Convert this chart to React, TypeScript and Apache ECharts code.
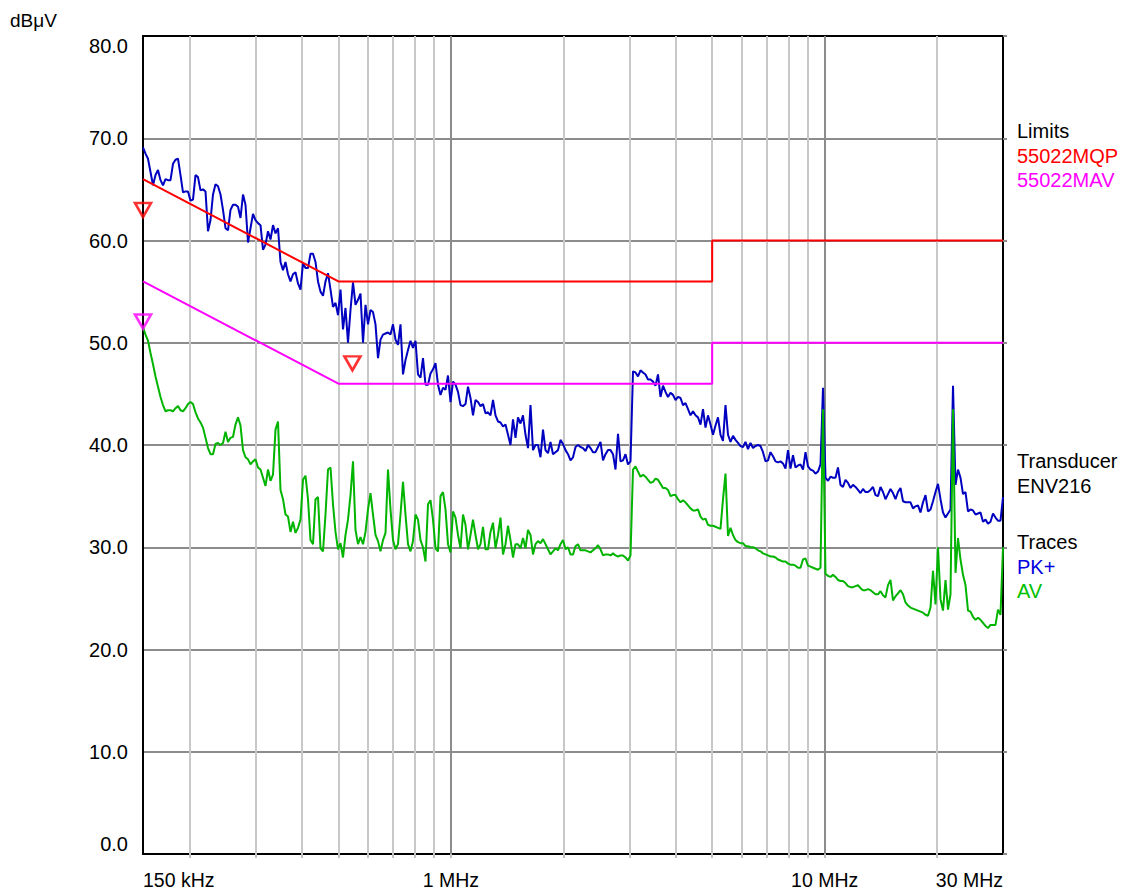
import React, { useEffect, useRef } from 'react';
import * as echarts from 'echarts';

// Sweep grid of the receiver (log-spaced points, shared by both traces)
const SWEEP_START_MHZ = 0.15;
const SWEEP_STOP_MHZ = 30;

const PK_DBUV = [
  69.1, 68.5, 68.0, 66.7, 65.4, 66.4, 66.9, 65.9, 65.4, 66.0,
  65.9, 65.9, 67.5, 67.9, 68.0, 66.4, 64.7, 64.8, 64.8, 63.9,
  64.0, 66.4, 66.2, 64.9, 65.0, 64.8, 60.9, 62.0, 64.5, 65.5,
  65.3, 64.5, 63.0, 61.2, 61.0, 63.0, 63.5, 63.5, 63.3, 62.2,
  64.5, 63.5, 59.8, 61.2, 62.6, 62.0, 61.7, 61.5, 59.1, 59.6,
  60.9, 60.1, 61.5, 60.7, 61.2, 57.9, 57.1, 57.9, 56.7, 56.0,
  56.7, 56.9, 55.8, 55.2, 57.8, 57.3, 57.3, 58.7, 58.7, 57.9,
  56.0, 55.0, 54.6, 56.0, 56.8, 55.2, 53.5, 53.9, 52.7, 55.2,
  51.3, 53.4, 50.0, 53.2, 55.9, 53.7, 54.2, 54.8, 50.0, 53.7,
  51.8, 53.2, 53.0, 51.8, 48.5, 50.3, 50.8, 50.9, 51.0, 50.8,
  51.8, 50.3, 49.8, 51.8, 46.9, 48.3, 49.3, 50.2, 49.5, 50.2,
  46.9, 46.6, 48.5, 45.9, 45.9, 47.0, 47.4, 48.0, 45.9, 44.9,
  45.6, 45.4, 46.8, 44.2, 46.2, 45.9, 45.2, 43.9, 43.8, 44.0,
  45.7, 44.6, 42.9, 44.4, 44.2, 43.8, 44.0, 43.1, 43.2, 42.9,
  44.4, 42.9, 42.3, 42.2, 41.8, 42.0, 41.0, 40.0, 42.5, 40.7,
  42.7, 42.1, 42.9, 41.0, 39.7, 43.9, 39.5, 40.0, 40.0, 38.8,
  41.5, 39.5, 39.2, 40.3, 39.1, 39.3, 39.5, 40.5, 40.1, 39.5,
  39.1, 38.5, 38.8, 39.8, 40.0, 39.8, 39.7, 39.4, 40.0, 39.7,
  39.3, 39.3, 39.8, 40.3, 38.5, 39.1, 39.5, 39.5, 39.1, 37.6,
  41.1, 38.4, 38.5, 39.1, 38.1, 38.4, 47.2, 47.1, 46.7, 47.3,
  47.1, 46.9, 46.4, 46.4, 46.2, 45.8, 46.9, 44.7, 45.8, 45.2,
  44.7, 45.1, 44.9, 44.4, 44.7, 44.6, 43.9, 44.1, 43.5, 42.9,
  43.3, 42.9, 42.7, 42.0, 43.5, 41.7, 42.9, 42.0, 41.0, 41.9,
  42.7, 41.0, 40.4, 43.9, 41.0, 40.3, 40.9, 40.5, 40.2, 39.9,
  39.8, 40.3, 39.6, 40.2, 39.7, 39.9, 40.0, 39.9, 39.3, 38.4,
  38.5, 39.3, 38.9, 38.4, 38.3, 38.4, 38.2, 37.7, 39.5, 37.7,
  39.0, 37.8, 38.0, 38.1, 37.6, 39.3, 37.9, 37.6, 37.5, 37.2,
  37.4, 38.1, 45.6, 36.8, 36.5, 36.9, 36.8, 36.8, 37.8, 36.1,
  35.9, 36.6, 36.3, 35.8, 36.1, 35.9, 35.6, 35.3, 35.7, 35.4,
  35.4, 35.6, 35.9, 35.1, 35.0, 35.9, 35.4, 34.7, 35.2, 35.7,
  35.3, 34.7, 35.4, 35.8, 34.5, 34.4, 34.4, 34.4, 33.8, 34.0,
  34.1, 33.4, 34.4, 35.1, 33.5, 33.7, 34.5, 35.4, 36.2, 34.7,
  33.4, 32.9, 33.3, 33.7, 45.8, 36.1, 37.6, 36.8, 35.2, 35.4,
  33.5, 33.7, 33.6, 33.2, 33.3, 33.4, 32.5, 32.7, 32.3, 32.5,
  33.3, 32.9, 32.6, 32.6, 34.9,
];

const AV_DBUV = [
  51.5, 50.8, 50.2, 49.0, 47.9, 46.7, 45.7, 44.7, 43.9, 43.3,
  43.4, 43.4, 43.3, 43.6, 43.8, 43.4, 43.3, 43.6, 44.0, 44.2,
  44.0, 43.2, 42.6, 42.2, 41.7, 40.7, 39.7, 39.1, 39.1, 40.1,
  40.2, 40.0, 40.2, 41.3, 40.3, 40.7, 40.8, 42.0, 42.7, 41.9,
  39.5, 38.8, 38.6, 38.1, 38.4, 38.6, 37.8, 37.6, 36.8, 36.0,
  37.6, 36.5, 37.1, 41.5, 42.3, 35.6, 34.7, 33.2, 33.0, 31.5,
  32.5, 31.4, 31.9, 32.7, 36.6, 37.0, 34.7, 30.7, 30.3, 34.7,
  34.9, 29.9, 29.6, 33.2, 37.6, 37.8, 34.2, 31.5, 29.8, 30.4,
  29.0, 31.2, 32.7, 35.1, 38.4, 31.7, 30.3, 31.0, 30.3, 31.5,
  33.7, 35.3, 33.2, 31.2, 30.6, 29.6, 30.7, 31.4, 37.6, 33.7,
  30.7, 29.8, 30.3, 33.2, 36.4, 33.2, 30.3, 29.6, 30.6, 33.2,
  32.7, 30.7, 30.0, 28.6, 34.2, 34.6, 32.7, 29.9, 29.6, 35.0,
  35.4, 33.7, 30.3, 29.5, 33.5, 32.9, 31.2, 29.9, 33.2, 32.2,
  29.8, 31.2, 32.7, 31.2, 29.8, 30.3, 32.0, 29.8, 29.8, 31.5,
  32.4, 29.9, 31.2, 32.9, 29.3, 30.3, 32.1, 30.7, 29.0, 30.3,
  30.3, 29.9, 30.9, 29.9, 31.7, 31.2, 29.3, 30.3, 30.6, 30.4,
  30.8, 30.3, 29.8, 29.3, 29.6, 29.9, 29.7, 30.3, 30.7, 29.8,
  30.0, 29.3, 29.3, 30.1, 30.3, 29.7, 29.7, 29.7, 29.6, 29.5,
  29.7, 29.9, 30.2, 29.8, 29.2, 29.3, 29.3, 29.2, 29.4, 29.2,
  29.1, 29.2, 29.2, 29.0, 28.7, 29.2, 37.6, 37.9, 37.4, 36.9,
  37.1, 36.9, 36.6, 36.3, 36.4, 36.7, 36.6, 36.2, 35.8, 35.8,
  35.6, 35.0, 35.1, 35.1, 34.7, 34.4, 34.6, 34.4, 34.1, 33.8,
  33.6, 33.6, 33.7, 33.0, 32.7, 32.8, 32.2, 32.1, 32.1, 32.0,
  31.9, 31.8, 34.7, 37.2, 31.1, 31.9, 31.2, 30.7, 30.5, 30.4,
  30.4, 30.1, 30.1, 30.0, 30.0, 29.9, 29.7, 29.6, 29.4, 29.3,
  29.2, 29.1, 29.1, 29.0, 28.8, 28.7, 28.6, 28.6, 28.4, 28.3,
  28.3, 28.2, 28.0, 28.0, 28.8, 28.9, 28.2, 28.1, 28.0, 27.9,
  27.8, 28.0, 43.5, 27.4, 27.2, 27.1, 27.3, 27.1, 26.8, 26.7,
  26.7, 26.5, 26.2, 26.1, 26.1, 26.2, 26.3, 26.0, 25.8, 25.8,
  25.9, 25.8, 25.6, 25.4, 25.4, 25.7, 25.3, 25.1, 26.3, 26.8,
  24.8, 25.2, 25.5, 25.8, 25.4, 24.6, 24.3, 24.1, 24.0, 23.9,
  23.8, 23.7, 23.6, 23.4, 23.3, 24.1, 27.7, 24.4, 30.0, 24.9,
  23.8, 26.8, 23.9, 25.4, 43.5, 27.5, 30.9, 28.8, 27.3, 26.3,
  23.8, 23.7, 23.2, 22.9, 23.1, 22.9, 22.6, 22.3, 22.1, 22.4,
  22.4, 22.4, 23.9, 23.4, 30.0,
];

const QP_LIMIT_MHZ = [0.15, 0.5, 5, 5, 30];
const QP_LIMIT_DBUV = [66, 56, 56, 60, 60];
const AV_LIMIT_MHZ = [0.15, 0.5, 5, 5, 30];
const AV_LIMIT_DBUV = [56, 46, 46, 50, 50];

const QP_MARKER_MHZ = [0.15, 0.545];
const QP_MARKER_DBUV = [62.3, 47.3];
const AV_MARKER_MHZ = [0.15];
const AV_MARKER_DBUV = [51.4];

const GRID_MINOR_MHZ = [0.2, 0.3, 0.4, 0.5, 0.6, 0.7, 0.8, 0.9, 2, 3, 4, 5, 6, 7, 8, 9, 20];
const GRID_MAJOR_MHZ = [1, 10];
const X_LABEL_MHZ = [0.15, 1, 10, 30];
const X_LABELS = ['150 kHz', '1 MHz', '10 MHz', '30 MHz'];

const Y_MIN = 0;
const Y_MAX = 80;
const Y_STEP = 10;

const LEGEND_BLOCKS = [
  { top: 131, lines: [['Limits', '#000000'], ['55022MQP', '#ff0000'], ['55022MAV', '#ff00ff']] },
  { top: 461, lines: [['Transducer', '#000000'], ['ENV216', '#000000']] },
  { top: 542, lines: [['Traces', '#000000'], ['PK+', '#0000e0'], ['AV', '#00c000']] },
];

const FONT = '"Liberation Sans", Arial, Helvetica, sans-serif';
const lg = (f: number) => Math.log10(f);

export default function App() {
  const ref = useRef<HTMLDivElement>(null);

  useEffect(() => {
    if (!ref.current) return;
    const chart = echarts.init(ref.current, undefined, { renderer: 'svg' });

    const n = PK_DBUV.length;
    const freq = PK_DBUV.map((_, i) =>
      SWEEP_START_MHZ * Math.pow(SWEEP_STOP_MHZ / SWEEP_START_MHZ, i / (n - 1))
    );
    const pk = PK_DBUV.map((v, i) => [lg(freq[i]), v]);
    const av = AV_DBUV.map((v, i) => [lg(freq[i]), v]);
    const qpLim = QP_LIMIT_MHZ.map((f, i) => [lg(f), QP_LIMIT_DBUV[i]]);
    const avLim = AV_LIMIT_MHZ.map((f, i) => [lg(f), AV_LIMIT_DBUV[i]]);
    const qpMk = QP_MARKER_MHZ.map((f, i) => [lg(f), QP_MARKER_DBUV[i]]);
    const avMk = AV_MARKER_MHZ.map((f, i) => [lg(f), AV_MARKER_DBUV[i]]);

    const xMin = lg(SWEEP_START_MHZ);
    const xMax = lg(SWEEP_STOP_MHZ);
    const allGrid = [...GRID_MINOR_MHZ, ...GRID_MAJOR_MHZ].sort((a, b) => a - b);

    const graphics: any[] = [
      {
        type: 'text',
        x: 10,
        y: 20,
        style: { text: 'dBμV', fill: '#000', fontSize: 19, fontFamily: FONT, verticalAlign: 'middle', align: 'left' },
      },
    ];
    LEGEND_BLOCKS.forEach((b) => {
      b.lines.forEach(([t, c], j) => {
        graphics.push({
          type: 'text',
          x: 1017,
          y: b.top + j * 24.5,
          style: { text: t, fill: c, fontSize: 20, fontFamily: FONT, verticalAlign: 'middle', align: 'left' },
        });
      });
    });

    const markerSymbol = 'path://M0,0L16,0L8,14Z';

    chart.setOption({
      animation: false,
      backgroundColor: '#ffffff',
      grid: { left: 143, top: 36, width: 860, height: 818, containLabel: false },
      xAxis: [
        {
          type: 'value',
          min: xMin,
          max: xMax,
          position: 'bottom',
          axisLine: { show: true, onZero: false, lineStyle: { color: '#000', width: 2 } },
          axisTick: {
            show: true,
            inside: false,
            length: 4,
            customValues: allGrid.map(lg),
            lineStyle: { color: '#c0c0c0', width: 2 },
          },
          axisLabel: {
            show: true,
            customValues: X_LABEL_MHZ.map(lg),
            formatter: (v: number) => {
              const i = X_LABEL_MHZ.findIndex((f) => Math.abs(lg(f) - v) < 1e-6);
              return i >= 0 ? X_LABELS[i] : '';
            },
            color: '#000',
            fontSize: 19.5,
            fontFamily: FONT,
            margin: 16,
            alignMinLabel: 'left',
            alignMaxLabel: 'right',
          },
          splitLine: { show: false },
        },
        {
          type: 'value',
          min: xMin,
          max: xMax,
          position: 'top',
          axisLine: { show: true, onZero: false, lineStyle: { color: '#000', width: 2 } },
          axisTick: { show: false },
          axisLabel: { show: false },
          splitLine: { show: false },
        },
      ],
      yAxis: [
        {
          type: 'value',
          min: Y_MIN,
          max: Y_MAX,
          interval: Y_STEP,
          position: 'left',
          axisLine: { show: true, onZero: false, lineStyle: { color: '#000', width: 2 } },
          axisTick: { show: false },
          axisLabel: {
            formatter: (v: number) => v.toFixed(1),
            color: '#000',
            fontSize: 20,
            fontFamily: FONT,
            margin: 15,
            verticalAlignMaxLabel: 'top',
            verticalAlignMinLabel: 'bottom',
          },
          splitLine: {
            show: true,
            showMinLine: false,
            showMaxLine: false,
            lineStyle: { color: '#8c8c8c', width: 2 },
          },
        },
        {
          type: 'value',
          min: Y_MIN,
          max: Y_MAX,
          interval: Y_STEP,
          position: 'right',
          axisLine: { show: true, onZero: false, lineStyle: { color: '#000', width: 2 } },
          axisTick: { show: true, inside: false, length: 4, lineStyle: { color: '#8c8c8c', width: 2 } },
          axisLabel: { show: false },
          splitLine: { show: false },
        },
      ],
      graphic: graphics,
      series: [
        {
          type: 'lines',
          coordinateSystem: 'cartesian2d',
          xAxisIndex: 0,
          yAxisIndex: 0,
          silent: true,
          z: 1,
          lineStyle: { color: '#c8c8c8', width: 2, opacity: 1 },
          data: GRID_MINOR_MHZ.map((f) => ({ coords: [[lg(f), Y_MIN], [lg(f), Y_MAX]] })),
        },
        {
          type: 'lines',
          coordinateSystem: 'cartesian2d',
          xAxisIndex: 0,
          yAxisIndex: 0,
          silent: true,
          z: 1,
          lineStyle: { color: '#8c8c8c', width: 2, opacity: 1 },
          data: GRID_MAJOR_MHZ.map((f) => ({ coords: [[lg(f), Y_MIN], [lg(f), Y_MAX]] })),
        },
        {
          name: 'PK+',
          type: 'line',
          xAxisIndex: 0,
          yAxisIndex: 0,
          data: pk,
          showSymbol: false,
          symbol: 'none',
          z: 3,
          lineStyle: { color: '#0000c0', width: 2 },
        },
        {
          name: 'AV',
          type: 'line',
          xAxisIndex: 0,
          yAxisIndex: 0,
          data: av,
          showSymbol: false,
          symbol: 'none',
          z: 4,
          lineStyle: { color: '#00b400', width: 2 },
        },
        {
          name: '55022MQP',
          type: 'line',
          xAxisIndex: 0,
          yAxisIndex: 0,
          data: qpLim,
          showSymbol: false,
          symbol: 'none',
          z: 5,
          lineStyle: { color: '#ff0000', width: 2 },
        },
        {
          name: '55022MAV',
          type: 'line',
          xAxisIndex: 0,
          yAxisIndex: 0,
          data: avLim,
          showSymbol: false,
          symbol: 'none',
          z: 5,
          lineStyle: { color: '#ff00ff', width: 2 },
        },
        {
          type: 'scatter',
          xAxisIndex: 0,
          yAxisIndex: 0,
          data: qpMk,
          symbol: markerSymbol,
          symbolSize: [16, 14],
          symbolOffset: [0, -7],
          z: 6,
          itemStyle: { color: 'rgba(255,255,255,0)', borderColor: '#ff0000', borderWidth: 2.6 },
        },
        {
          type: 'scatter',
          xAxisIndex: 0,
          yAxisIndex: 0,
          data: avMk,
          symbol: markerSymbol,
          symbolSize: [16, 14],
          symbolOffset: [0, -7],
          z: 6,
          itemStyle: { color: 'rgba(255,255,255,0)', borderColor: '#ff00ff', borderWidth: 2.6 },
        },
      ],
    });

    return () => chart.dispose();
  }, []);

  return (
    <div
      ref={ref}
      style={{ position: 'fixed', left: 0, top: 0, width: 1125, height: 892, background: '#fff' }}
    />
  );
}
